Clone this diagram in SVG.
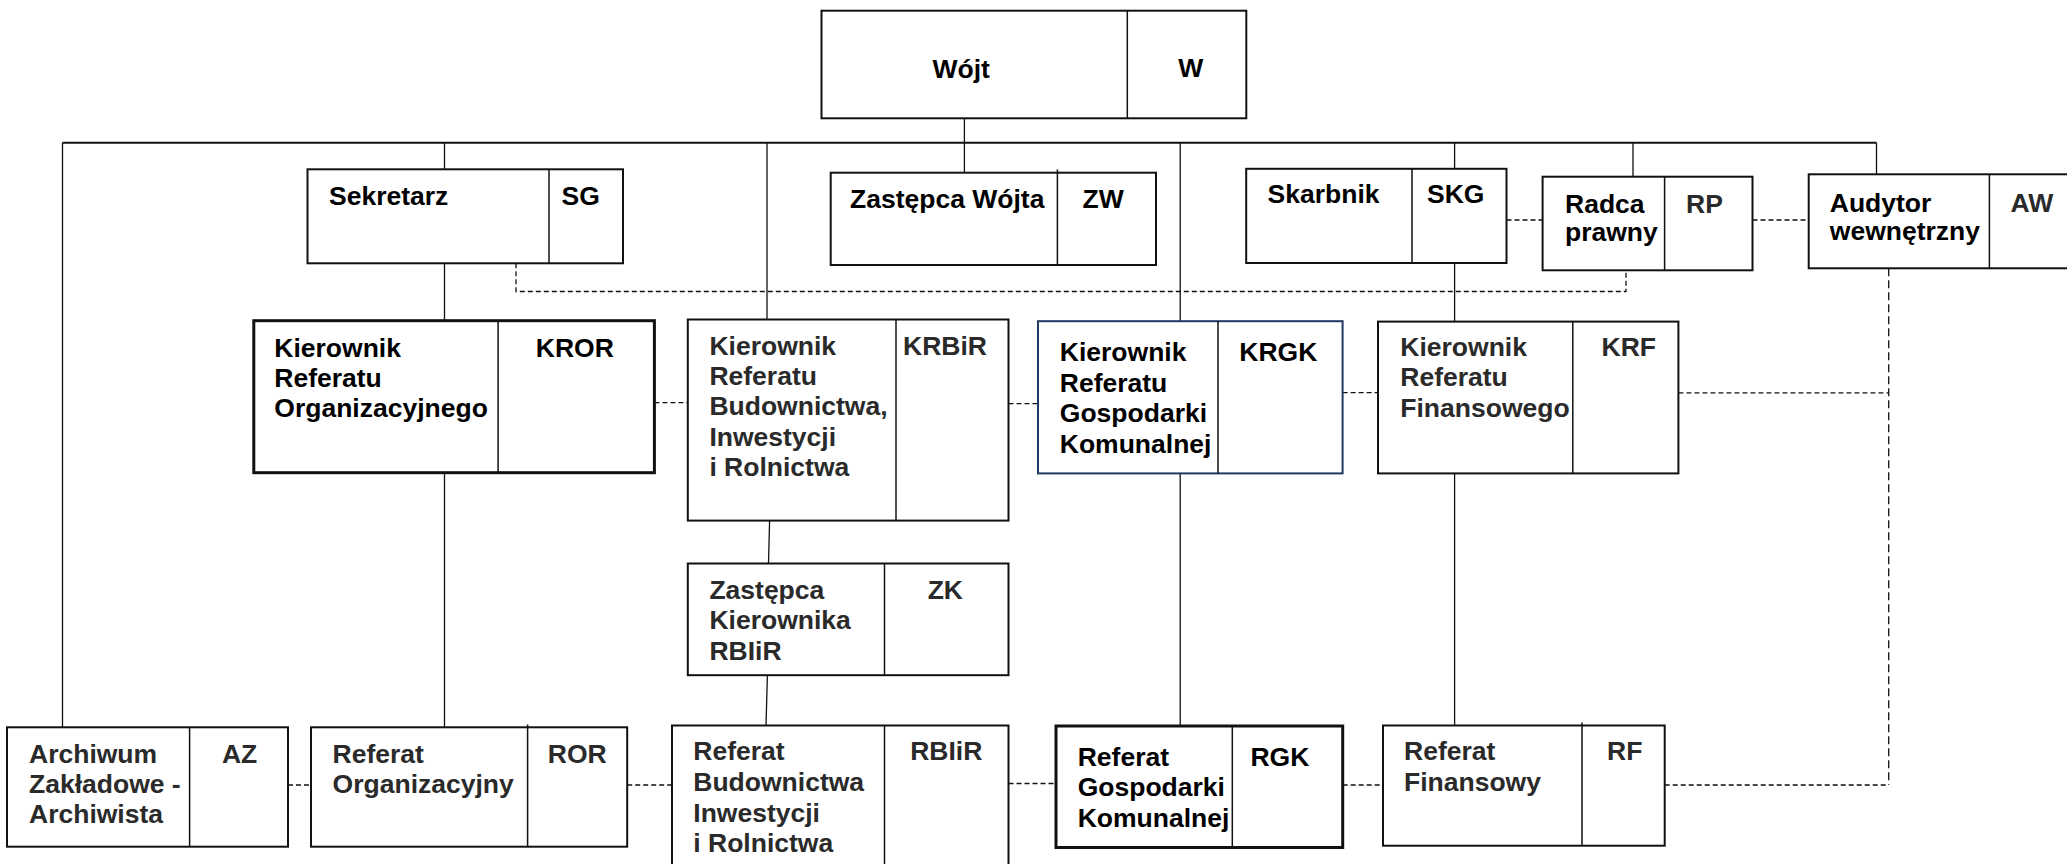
<svg xmlns="http://www.w3.org/2000/svg" width="2067" height="864" viewBox="0 0 2067 864">
<style>
  .box{fill:#fff;stroke:#111;stroke-width:2}
  .thick{stroke-width:3}
  .navy{stroke:#1f3864}
  .div{stroke:#111;stroke-width:1.5;fill:none}
  .ln{stroke:#111;stroke-width:1.3;fill:none}
  .bus{stroke:#111;stroke-width:2;fill:none}
  .dash{stroke:#111;stroke-width:1.3;fill:none;stroke-dasharray:5 3}
  .vdash{stroke:#111;stroke-width:1.3;fill:none;stroke-dasharray:8 4}
  text{font-family:"Liberation Sans",Arial,sans-serif;font-weight:bold;font-size:26.5px;fill:#000}
  .g{fill:#2a2a2a}
</style>
<rect width="2067" height="864" fill="#fff"/>
<g id="connectors">
  <path class="bus" d="M62.5,142.7 H1876.5"/>
  <path class="ln" d="M964.4,118.3 V172.7"/>
  <path class="ln" d="M62.5,142.7 V727.3"/>
  <path class="ln" d="M444.5,142.7 V169.3 M444.5,263.3 V320.7 M444.5,472.7 V727.3"/>
  <path class="ln" d="M767,142.7 V319.5"/>
  <path class="ln" d="M769.6,520.6 L768.5,563.5 M767.4,675.2 L766,725.5"/>
  <path class="ln" d="M1180.2,142.7 V321.2 M1180.2,473.4 V726"/>
  <path class="ln" d="M1454.6,142.7 V168.8 M1454.6,263 V321.6 M1454.6,473.4 V725.5"/>
  <path class="ln" d="M1633,142.7 V176.7"/>
  <path class="ln" d="M1876.5,142.7 V174.3"/>
  <path class="dash" d="M516,263.3 V291.5 H1626 V270.3"/>
  <path class="dash" d="M1506.5,220 H1542.6"/>
  <path class="dash" d="M1752.5,220 H1808.7"/>
  <path class="vdash" d="M1888.7,268.3 V785"/>
  <path class="dash" d="M1678.4,392.8 H1888.7"/>
  <path class="dash" d="M1664.7,785 H1888.7"/>
  <path class="dash" d="M654.4,402.7 H687.8"/>
  <path class="dash" d="M1008.5,403.6 H1038"/>
  <path class="dash" d="M1342.6,392.7 H1378"/>
  <path class="dash" d="M288,785 H311"/>
  <path class="dash" d="M627.2,785 H672"/>
  <path class="dash" d="M1008.5,783.5 H1056"/>
  <path class="dash" d="M1342.7,785 H1383"/>
</g>
<g id="W">
  <rect class="box" x="821.5" y="10.7" width="424.8" height="107.6"/>
  <path class="div" d="M1127.3,10.7 V118.3"/>
  <text x="932.5" y="78.3">Wójt</text>
  <text x="1178.3" y="77.3">W</text>
</g>
<g id="SG">
  <rect class="box" x="307.5" y="169.3" width="315.5" height="94"/>
  <path class="div" d="M549,169.3 V263.3"/>
  <text x="329" y="205">Sekretarz</text>
  <text x="561.6" y="205">SG</text>
</g>
<g id="ZW">
  <rect class="box" x="830.7" y="172.7" width="325.3" height="92.3"/>
  <path class="div" d="M1057.4,169.5 V265"/>
  <text x="850" y="208.3">Zastępca Wójta</text>
  <text x="1082.5" y="208.3">ZW</text>
</g>
<g id="SKG">
  <rect class="box" x="1246.2" y="168.8" width="260.3" height="94.2"/>
  <path class="div" d="M1412,168.8 V263"/>
  <text x="1267.6" y="203.3">Skarbnik</text>
  <text x="1427" y="203.3">SKG</text>
</g>
<g id="RP">
  <rect class="box" x="1542.6" y="176.7" width="209.9" height="93.6"/>
  <path class="div" d="M1664.6,176.7 V270.3"/>
  <text x="1565" y="213.3">Radca</text>
  <text x="1565" y="240.7">prawny</text>
  <text class="g" x="1686" y="213.3">RP</text>
</g>
<g id="AW">
  <rect class="box" x="1808.7" y="174.3" width="266" height="94"/>
  <path class="div" d="M1989.4,174.3 V268.3"/>
  <text x="1829.8" y="211.7">Audytor</text>
  <text x="1829.8" y="240">wewnętrzny</text>
  <text class="g" x="2010.6" y="211.7">AW</text>
</g>
<g id="KROR">
  <rect class="box thick" x="253.8" y="320.7" width="400.6" height="152"/>
  <path class="div" d="M498.1,320.7 V472.7"/>
  <text x="274.3" y="356.7">Kierownik</text>
  <text x="274.3" y="386.7">Referatu</text>
  <text x="274.3" y="416.7">Organizacyjnego</text>
  <text x="535.8" y="356.7">KROR</text>
</g>
<g id="KRBiR">
  <rect class="box" x="687.8" y="319.5" width="320.7" height="201.1"/>
  <path class="div" d="M896,319.5 V520.6"/>
  <text class="g" x="709.4" y="354.7">Kierownik</text>
  <text class="g" x="709.4" y="384.9">Referatu</text>
  <text class="g" x="709.4" y="415.1">Budownictwa,</text>
  <text class="g" x="709.4" y="445.5">Inwestycji</text>
  <text class="g" x="709.4" y="475.8">i Rolnictwa</text>
  <text class="g" x="903" y="354.7">KRBiR</text>
</g>
<g id="KRGK">
  <rect class="box navy" x="1038" y="321.2" width="304.6" height="152.2"/>
  <path class="div" d="M1218,321.2 V473.4"/>
  <text x="1059.8" y="361">Kierownik</text>
  <text x="1059.8" y="391.6">Referatu</text>
  <text x="1059.8" y="422.2">Gospodarki</text>
  <text x="1059.8" y="452.8">Komunalnej</text>
  <text x="1239.3" y="361">KRGK</text>
</g>
<g id="KRF">
  <rect class="box" x="1378" y="321.6" width="300.4" height="151.8"/>
  <path class="div" d="M1572.8,321.6 V473.4"/>
  <text class="g" x="1400.3" y="355.8">Kierownik</text>
  <text class="g" x="1400.3" y="386.3">Referatu</text>
  <text class="g" x="1400.3" y="416.9">Finansowego</text>
  <text class="g" x="1601.5" y="355.8">KRF</text>
</g>
<g id="ZK">
  <rect class="box" x="687.8" y="563.5" width="320.7" height="111.7"/>
  <path class="div" d="M884.5,563.5 V675.2"/>
  <text class="g" x="709.4" y="598.5">Zastępca</text>
  <text class="g" x="709.4" y="629">Kierownika</text>
  <text class="g" x="709.4" y="659.7">RBIiR</text>
  <text class="g" x="927.7" y="598.5">ZK</text>
</g>
<g id="AZ">
  <rect class="box" x="7" y="727.3" width="281" height="119.4"/>
  <path class="div" d="M189.6,727.3 V846.7"/>
  <text class="g" x="29" y="763.3">Archiwum</text>
  <text class="g" x="29" y="793.3">Zakładowe -</text>
  <text class="g" x="29" y="823">Archiwista</text>
  <text class="g" x="221.9" y="763.3">AZ</text>
</g>
<g id="ROR">
  <rect class="box" x="311" y="727.3" width="316.2" height="119.4"/>
  <path class="div" d="M527.6,724.5 V846.7"/>
  <text class="g" x="332.6" y="763.3">Referat</text>
  <text class="g" x="332.6" y="793.3">Organizacyjny</text>
  <text class="g" x="547.8" y="763.3">ROR</text>
</g>
<g id="RBIiR">
  <rect class="box" x="672" y="725.5" width="336.5" height="150"/>
  <path class="div" d="M884.5,725.5 V870"/>
  <text class="g" x="693.3" y="760.4">Referat</text>
  <text class="g" x="693.3" y="791">Budownictwa</text>
  <text class="g" x="693.3" y="821.6">Inwestycji</text>
  <text class="g" x="693.3" y="852">i Rolnictwa</text>
  <text class="g" x="910.2" y="760.4">RBIiR</text>
</g>
<g id="RGK">
  <rect class="box thick" x="1056" y="726" width="286.7" height="121.5"/>
  <path class="div" d="M1232.3,726 V847.5"/>
  <text x="1077.7" y="765.8">Referat</text>
  <text x="1077.7" y="796.4">Gospodarki</text>
  <text x="1077.7" y="827">Komunalnej</text>
  <text x="1250.4" y="765.8">RGK</text>
</g>
<g id="RF">
  <rect class="box" x="1383" y="725.5" width="281.7" height="120.2"/>
  <path class="div" d="M1582,722.5 V845.7"/>
  <text class="g" x="1404" y="760.4">Referat</text>
  <text class="g" x="1404" y="791">Finansowy</text>
  <text class="g" x="1607" y="760.4">RF</text>
</g>
</svg>
